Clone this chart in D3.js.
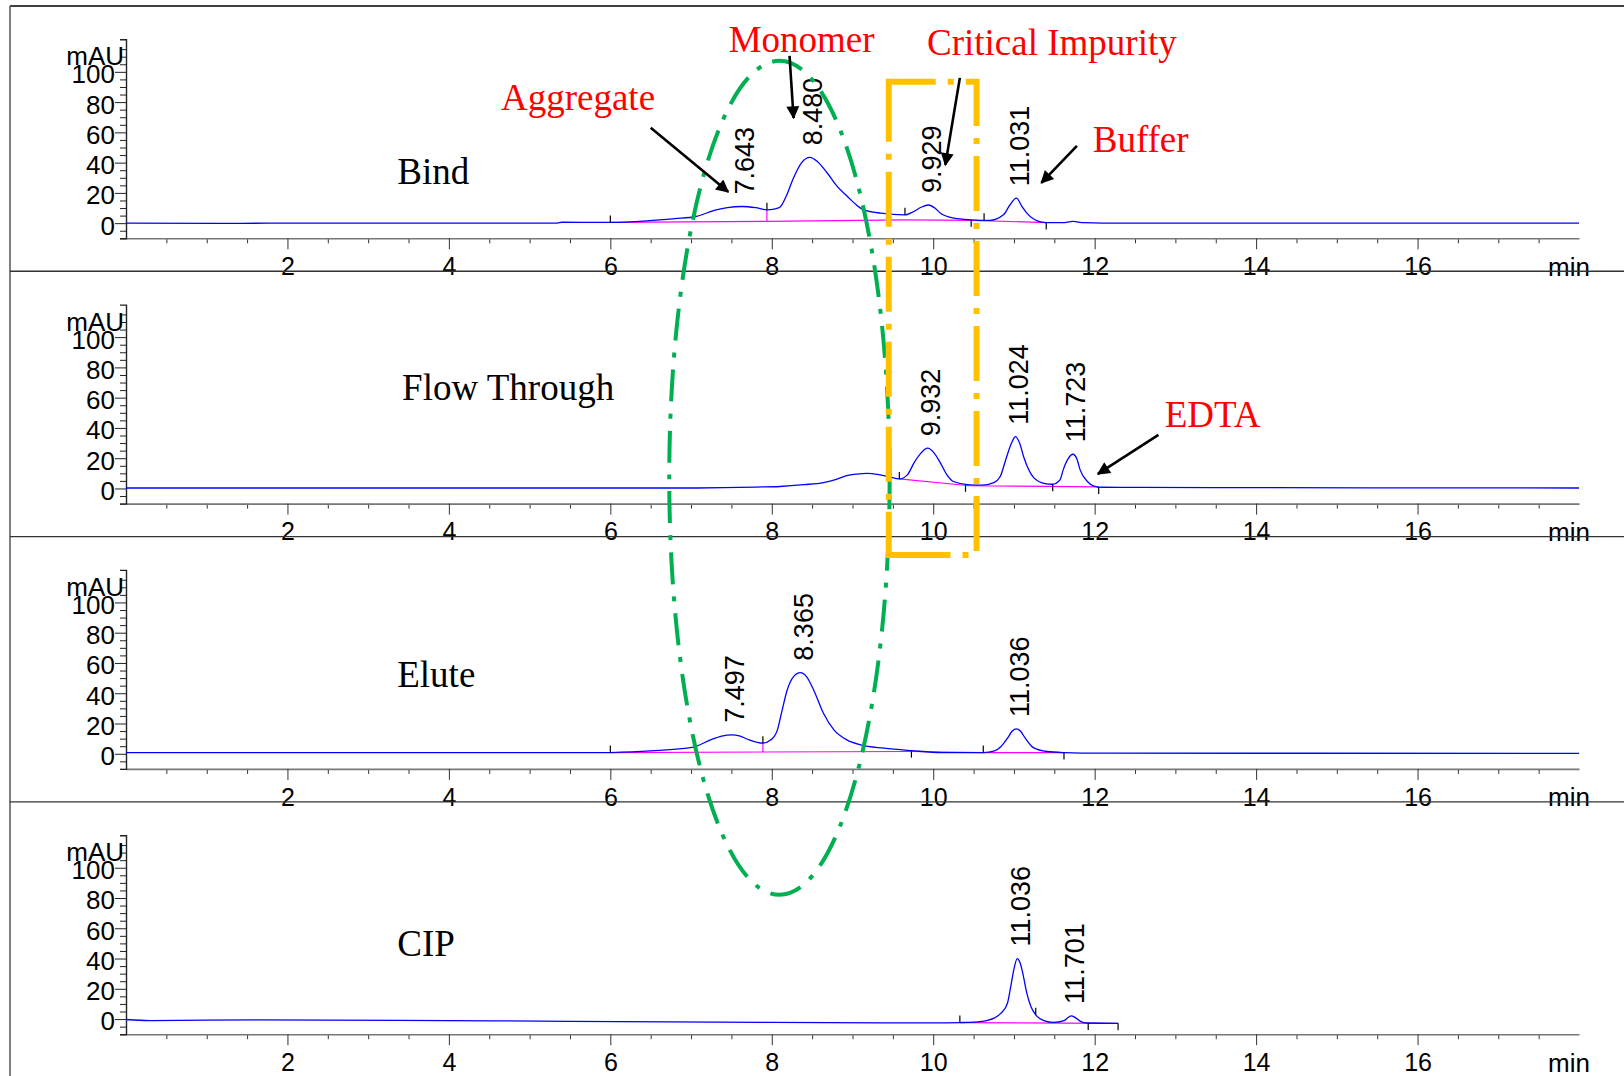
<!DOCTYPE html>
<html><head><meta charset="utf-8">
<script src="https://cdn.jsdelivr.net/npm/d3@7"></script>
<style>html,body{margin:0;padding:0;background:#fff;}svg{display:block;}</style>
</head><body>
<svg id="c" width="1624" height="1076"></svg>
<script>
// ---------------- data ----------------
const panelNames = ["Bind", "Flow Through", "Elute", "CIP"];
const xDomain = [0, 18];
const yDomain = [-10, 121.5];
const xMajorTicks = [2, 4, 6, 8, 10, 12, 14, 16];
const yMajorTicks = [0, 20, 40, 60, 80, 100];

// chromatogram traces [time (min), mAU]
const bindTrace = [[0,0],[1.1,-0.2],[1.75,0],[5.34,0],[5.4,0.6],[6.0,0.5],[6.45,1.5],[6.8,3],[7.06,4.4],[7.31,8.8],[7.45,10.3],[7.63,11],[7.8,10.2],[7.94,8.8],[8.03,9.3],[8.1,10.5],[8.18,18],[8.27,30],[8.37,40],[8.47,43.5],[8.57,40.5],[8.69,33],[8.8,25],[8.94,17.5],[9.05,12],[9.14,8.8],[9.35,6.6],[9.65,5.5],[9.76,7.7],[9.85,10.5],[9.94,12],[10.02,10],[10.09,6.6],[10.26,3.3],[10.47,2.2],[10.7,1.8],[10.87,5.5],[10.95,12],[11.03,16.5],[11.1,11],[11.16,6.6],[11.29,1.5],[11.4,0.4],[11.6,0.3],[11.73,1.2],[11.86,0.3],[12.1,0],[18,0]];
const flowTrace = [[0,0.3],[7.0,0.3],[7.4,0.5],[7.8,0.9],[8.1,1.3],[8.4,2.5],[8.64,3.9],[8.8,6],[8.93,8.5],[9.05,9.5],[9.18,10],[9.34,9],[9.45,7.8],[9.58,6.3],[9.68,9],[9.76,16.7],[9.85,23.5],[9.93,26.6],[10.01,23.5],[10.09,16.7],[10.17,9],[10.25,4.6],[10.45,2.4],[10.6,2.2],[10.75,3.9],[10.83,7.9],[10.91,21],[10.97,30],[11.02,34.2],[11.07,30],[11.12,21],[11.25,6.8],[11.37,3.4],[11.48,2.8],[11.57,5.7],[11.61,12.3],[11.67,19.5],[11.73,22.6],[11.78,19.5],[11.82,12.3],[11.91,4.6],[11.99,1.6],[12.1,0.8],[13.5,0.6],[18,0.3]];
const eluteTrace = [[0,0.7],[5.9,0.7],[6.0,0.8],[6.5,1.9],[7.03,4.4],[7.24,9.2],[7.38,11.7],[7.5,12.5],[7.6,11.8],[7.7,9.6],[7.89,7],[7.99,9.2],[8.07,15.8],[8.12,26.8],[8.19,42],[8.27,51],[8.355,53.6],[8.43,51],[8.52,42],[8.64,26.8],[8.77,15.8],[8.93,9.2],[9.1,5.9],[9.39,3.7],[9.73,2.1],[10.1,0.8],[10.62,0.8],[10.76,1.9],[10.84,4.8],[10.92,10.3],[10.98,15],[11.03,16.4],[11.08,15],[11.14,10.3],[11.24,4.1],[11.41,1.5],[11.62,0.8],[12.06,0.4],[18,0.3]];
const cipTrace = [[0,-0.3],[0.3,-1],[1.6,-0.5],[3.4,-0.8],[5.5,-1.5],[8,-2.2],[10,-2.5],[10.33,-2.3],[10.5,-2],[10.66,-1],[10.76,0.8],[10.84,3.9],[10.92,10.5],[10.96,21.4],[11.0,33],[11.04,40],[11.07,38],[11.1,32.5],[11.16,17],[11.21,8.3],[11.27,2.8],[11.37,-1],[11.49,-2.2],[11.62,-1],[11.67,1],[11.71,2.1],[11.76,1],[11.83,-1.7],[11.9,-2.6],[12.29,-2.8]];

// integration baselines (magenta)
const bindBase = [[6.0,0.5],[7.94,1.2],[9.65,2.2],[10.47,1.8],[11.4,0.4]];
const flowBase = [[9.58,6.3],[10.45,1.8],[12.05,1.0]];
const eluteBase = [[6.0,0.8],[9.73,1.5],[10.62,0.8],[11.62,0.8]];
const cipBase = [[10.33,-2.3],[12.29,-2.8]];
// peak split drop lines [time, top mAU, bottom mAU]
const bindDrops = [[7.94, 8.8, 1.2]];
const flowDrops = [];
const eluteDrops = [[7.89, 7, 1.0]];
const cipDrops = [];
// integration event ticks [time, mAU, direction (-1 up, 1 down)]
const bindTicks = [[6.0,0.5,-1],[7.94,8.8,-1],[9.65,5.5,-1],[10.47,2.2,1],[10.63,1.9,-1],[11.4,0.4,1]];
const flowTicks = [[9.58,6.3,-1],[10.4,2.4,1],[11.48,2.8,1],[12.05,1.0,1]];
const eluteTicks = [[6.0,0.8,-1],[7.89,7,-1],[9.73,2.1,1],[10.62,0.8,-1],[11.62,0.8,1]];
const cipTicks = [[10.33,-2.3,-1],[11.27,2.8,-1],[11.92,-2.6,1],[12.29,-2.8,1]];
// retention time labels
const bindPeaks = ["7.643","8.480","9.929","11.031"];
const flowPeaks = ["9.932","11.024","11.723"];
const elutePeaks = ["7.497","8.365","11.036"];
const cipPeaks = ["11.036","11.701"];
// panel label anchors [time, mAU]
const panelLabelPos = [[3.36,26],[3.42,58.4],[3.36,44],[3.36,42]];

// annotations (panel index, time, mAU)
const annoTexts = [
  {text:"Aggregate", panel:0, t:5.60, v:74.9},
  {text:"Monomer", panel:0, t:8.37, v:113.2},
  {text:"Critical Impurity", panel:0, t:11.47, v:111.2},
  {text:"Buffer", panel:0, t:12.57, v:47.1},
  {text:"EDTA", panel:1, t:13.46, v:40.7}
];
const annoArrows = [
  {panel:0, t0:6.50, v0:63, t1:7.46, v1:20.7},
  {panel:0, t0:8.22, v0:110.6, t1:8.27, v1:69.5},
  {panel:0, t0:10.33, v0:96, t1:10.15, v1:38.5},
  {panel:0, t0:11.78, v0:51.1, t1:11.34, v1:26.6},
  {panel:1, t0:12.79, v0:35.4, t1:12.04, v1:9.6}
];
const ellipseSpec = {tLeft:6.73, tRight:9.46, topPanel:0, topV:107.3, bottomPanel:3, bottomV:82.1};
const boxSpec = {tLeft:9.449, tRight:10.537, topPanel:0, topV:93.4, bottomPanel:1, bottomV:-43.9};

// ---------------- drawing ----------------
const traces = [bindTrace, flowTrace, eluteTrace, cipTrace];
const bases = [bindBase, flowBase, eluteBase, cipBase];
const drops = [bindDrops, flowDrops, eluteDrops, cipDrops];
const ticksEv = [bindTicks, flowTicks, eluteTicks, cipTicks];
const peaks = [bindPeaks, flowPeaks, elutePeaks, cipPeaks];

const W = 1624, H = 1076;
const PANEL_H = 265.3;
const svg = d3.select("#c");
const sans = "'Liberation Sans', Arial, sans-serif";
const serif = "'Liberation Serif', 'Times New Roman', serif";

const x = d3.scaleLinear().domain(xDomain).range([126, 1579]);
const yOf = i => d3.scaleLinear().domain(yDomain).range([238.3 + i * PANEL_H, 39.3 + i * PANEL_H]);

// frame
svg.append("line").attr("x1", 10).attr("x2", W).attr("y1", 6).attr("y2", 6).attr("stroke", "#000").attr("stroke-width", 1.5);
svg.append("line").attr("x1", 10).attr("x2", 10).attr("y1", 6).attr("y2", H).attr("stroke", "#555").attr("stroke-width", 1.5);

const minorX = d3.range(0.5, 18, 0.5).filter(v => v % 2 !== 0);
const minorY = d3.range(-10, 121, 5).filter(v => v % 20 !== 0 || v < 0);

panelNames.forEach((name, i) => {
  const y = yOf(i);
  const g = svg.append("g");
  const axisY = y(yDomain[0]);

  // x axis minor
  g.append("g").attr("transform", `translate(0,${axisY})`)
    .call(d3.axisBottom(x).tickValues(minorX).tickSize(5).tickFormat("").tickSizeOuter(0))
    .call(s => s.select(".domain").remove())
    .call(s => s.selectAll("line").attr("stroke", "#333"));
  // x axis major
  const xa = g.append("g").attr("transform", `translate(0,${axisY})`)
    .call(d3.axisBottom(x).tickValues(xMajorTicks).tickSize(11).tickPadding(8).tickSizeOuter(0));
  xa.select(".domain").attr("stroke", "#777").attr("stroke-width", 1.6);
  xa.selectAll(".tick line").attr("stroke", "#333");
  xa.selectAll("text").attr("font-family", sans).attr("font-size", 25).attr("fill", "#000");
  g.append("text").attr("x", 1548).attr("y", axisY + 37.5).attr("font-family", sans)
    .attr("font-size", 26).text("min");

  // y axis minor
  g.append("g").attr("transform", `translate(${x(0)},0)`)
    .call(d3.axisLeft(y).tickValues(minorY).tickSize(6).tickFormat("").tickSizeOuter(0))
    .call(s => s.select(".domain").remove())
    .call(s => s.selectAll("line").attr("stroke", "#222"));
  const ya = g.append("g").attr("transform", `translate(${x(0)},0)`)
    .call(d3.axisLeft(y).tickValues(yMajorTicks).tickSize(11).tickPadding(0).tickSizeOuter(6));
  ya.select(".domain").attr("stroke", "#222").attr("stroke-width", 1.4);
  ya.selectAll(".tick line").attr("stroke", "#222");
  ya.selectAll("text").attr("font-family", sans).attr("font-size", 26).attr("fill", "#000").attr("dy", "0.42em");
  g.append("text").attr("x", x(0) - 2).attr("y", y(yDomain[1]) + 26).attr("text-anchor", "end")
    .attr("font-family", sans).attr("font-size", 26).text("mAU");

  // magenta baseline
  const line = d3.line().x(d => x(d[0])).y(d => y(d[1]));
  g.append("path").datum(bases[i]).attr("d", line).attr("fill", "none").attr("stroke", "#FF00FF").attr("stroke-width", 1.2);
  drops[i].forEach(d => {
    g.append("line").attr("x1", x(d[0])).attr("x2", x(d[0])).attr("y1", y(d[1])).attr("y2", y(d[2]))
      .attr("stroke", "#FF00FF").attr("stroke-width", 1.2);
  });

  // trace
  const curve = d3.line().x(d => x(d[0])).y(d => y(d[1])).curve(d3.curveMonotoneX);
  g.append("path").datum(traces[i]).attr("d", curve).attr("fill", "none").attr("stroke", "#0000FF").attr("stroke-width", 1.3);

  // event ticks
  ticksEv[i].forEach(d => {
    const yy = y(d[1]);
    g.append("line").attr("x1", x(d[0])).attr("x2", x(d[0])).attr("y1", yy).attr("y2", yy + d[2] * 7)
      .attr("stroke", "#000").attr("stroke-width", 1.2);
  });

  // peak labels
  peaks[i].forEach(lbl => {
    const t = +lbl;
    const near = traces[i].filter(p => Math.abs(p[0] - t) < 0.12);
    const apex = near.reduce((a, b) => (b[1] > a[1] ? b : a));
    const px = x(apex[0]) + 12.5, py = y(apex[1]) - 12;
    g.append("text").attr("transform", `translate(${px},${py}) rotate(-90)`)
      .attr("font-family", sans).attr("font-size", 27).attr("fill", "#000").text(lbl);
  });

  // panel name
  g.append("text").attr("x", x(panelLabelPos[i][0])).attr("y", y(panelLabelPos[i][1]))
    .attr("font-family", serif).attr("font-size", 37).attr("fill", "#000").text(name);

  // separator
  if (i < 3) {
    svg.append("line").attr("x1", 10).attr("x2", W).attr("y1", 271.3 + i * PANEL_H).attr("y2", 271.3 + i * PANEL_H)
      .attr("stroke", "#333").attr("stroke-width", 1.4);
  }
});

// annotations
const defs = svg.append("defs");
defs.append("marker").attr("id", "ah").attr("viewBox", "0 0 10 10").attr("refX", 9).attr("refY", 5)
  .attr("markerWidth", 17).attr("markerHeight", 13).attr("markerUnits", "userSpaceOnUse").attr("orient", "auto")
  .append("path").attr("d", "M0,0 L10,5 L0,10 z").attr("fill", "#000");

const ann = svg.append("g");
// ellipse
{
  const cx = (x(ellipseSpec.tLeft) + x(ellipseSpec.tRight)) / 2;
  const rx = (x(ellipseSpec.tRight) - x(ellipseSpec.tLeft)) / 2;
  const top = yOf(ellipseSpec.topPanel)(ellipseSpec.topV);
  const bot = yOf(ellipseSpec.bottomPanel)(ellipseSpec.bottomV);
  ann.append("ellipse").attr("cx", cx).attr("cy", (top + bot) / 2).attr("rx", rx).attr("ry", (bot - top) / 2)
    .attr("fill", "none").attr("stroke", "#00B050").attr("stroke-width", 4)
    .attr("stroke-dasharray", "32,12,5,12");
}
// orange box
{
  const x0 = x(boxSpec.tLeft), x1 = x(boxSpec.tRight);
  const y0 = yOf(boxSpec.topPanel)(boxSpec.topV), y1 = yOf(boxSpec.bottomPanel)(boxSpec.bottomV);
  ann.append("path").attr("d", `M${x0},${y0 + 58}L${x0},${y0}L${x1},${y0}L${x1},${y1}L${x0},${y1}Z`)
    .attr("fill", "none").attr("stroke", "#FFC000").attr("stroke-width", 6)
    .attr("stroke-dasharray", "105,12,6,12,55,12,6,12,55,12,6,12,55,12,6,12,55,12,6,12,55,12,6,12,55,12,6,12");
}
annoArrows.forEach(a => {
  const y = yOf(a.panel);
  ann.append("line").attr("x1", x(a.t0)).attr("y1", y(a.v0)).attr("x2", x(a.t1)).attr("y2", y(a.v1))
    .attr("stroke", "#000").attr("stroke-width", 2.6).attr("marker-end", "url(#ah)");
});
annoTexts.forEach(a => {
  const y = yOf(a.panel);
  ann.append("text").attr("x", x(a.t)).attr("y", y(a.v)).attr("text-anchor", "middle")
    .attr("font-family", serif).attr("font-size", 37).attr("fill", "#FF0000").text(a.text);
});
</script>
</body></html>
